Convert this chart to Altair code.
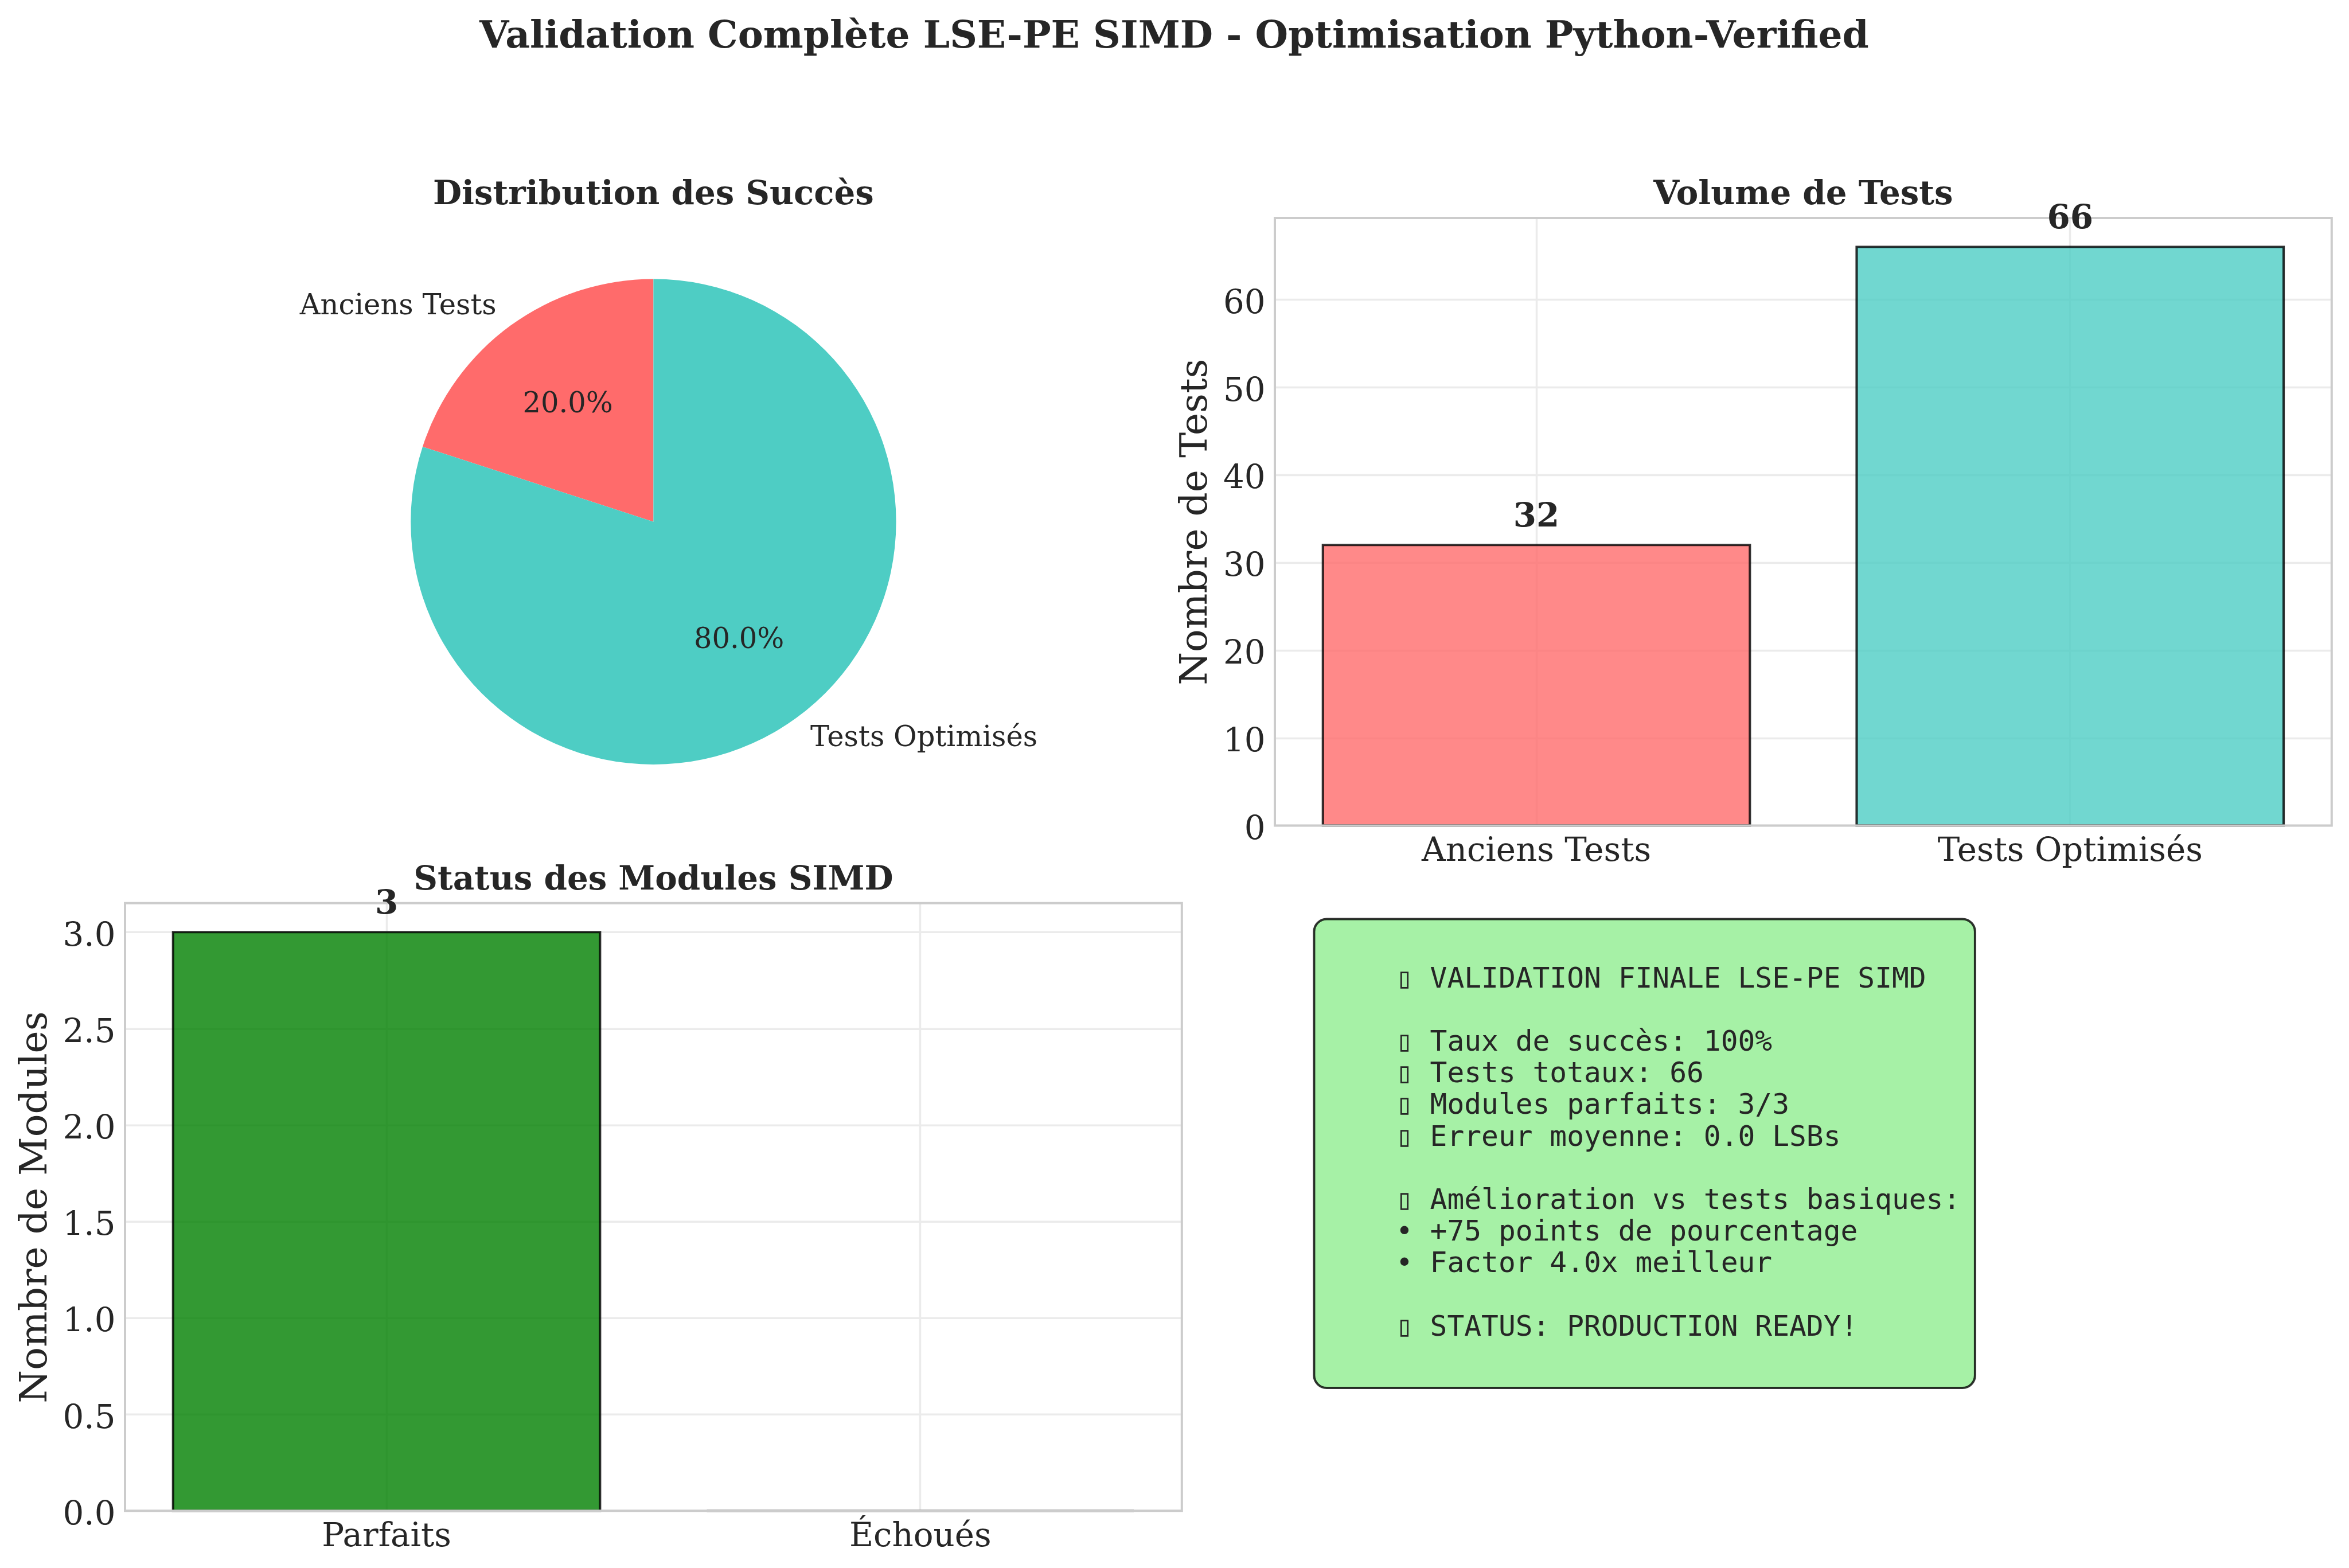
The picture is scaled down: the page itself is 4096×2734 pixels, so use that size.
import math
import altair as alt
import pandas as pd

# ---------------- data ----------------
main_title = "Validation Complète LSE-PE SIMD - Optimisation Python-Verified"
panel_titles = ["Distribution des Succès", "Volume de Tests", "Status des Modules SIMD"]

pie_categories = ["Anciens Tests", "Tests Optimisés"]
pie_values = [25, 100]  # taux de succès -> 20.0% / 80.0%

volume_categories = ["Anciens Tests", "Tests Optimisés"]
volume_values = [32, 66]
volume_ticks = [0, 10, 20, 30, 40, 50, 60]

module_categories = ["Parfaits", "Échoués"]
module_values = [3, 0]
module_ticks = [0.0, 0.5, 1.0, 1.5, 2.0, 2.5, 3.0]

y_titles = ["Nombre de Tests", "Nombre de Modules"]

summary_lines = [
    "▯ VALIDATION FINALE LSE-PE SIMD",
    "",
    "▯ Taux de succès: 100%",
    "▯ Tests totaux: 66",
    "▯ Modules parfaits: 3/3",
    "▯ Erreur moyenne: 0.0 LSBs",
    "",
    "▯ Amélioration vs tests basiques:",
    "• +75 points de pourcentage",
    "• Factor 4.0x meilleur",
    "",
    "▯ STATUS: PRODUCTION READY!",
]

# ---------------- styles / layout ----------------
pie_colors = ["#FF6B6B", "#4ECDC4"]
volume_colors = ["#FF6B6B", "#4ECDC4"]
module_colors = ["#008000", "#FF0000"]

W = 1842.8
H = 1059.4
OX, OY = 218.0, 379.6
COL_GAP, ROW_GAP = 162.0, 134.8
R = 423.2

SERIF = "DejaVu Serif"
MONO = "DejaVu Sans Mono"
INK = "#262626"
GRID = "#ebebeb"
SPINE = "#cccccc"

FS_SUP = 66.1
FS_PTITLE = 57.8
FS_TICK = 57.8
FS_AXT = 66.1
FS_PIE = 49.55
FS_BOX = 49.55
FS_VAL = 57.8
LINE_H = 55.2

one = pd.DataFrame({"k": [0]})


def panel_title(text, y=-23.8):
    return alt.Chart(pd.DataFrame({"t": [text]})).mark_text(
        font=SERIF, fontSize=FS_PTITLE, fontWeight="bold", color=INK,
        align="center", baseline="alphabetic",
    ).encode(text="t:N", x=alt.value(W / 2), y=alt.value(y))


def frame():
    return alt.Chart(one).mark_rect(
        fillOpacity=0, stroke=SPINE, strokeWidth=4
    ).encode(x=alt.value(0), x2=alt.value(W), y=alt.value(0), y2=alt.value(H))


def anchor(x, y):
    return alt.Chart(one).mark_rule(opacity=0).encode(
        x=alt.value(x), x2=alt.value(x + 1), y=alt.value(y), y2=alt.value(y)
    )


# ---------------- pie panel ----------------
pie_df = pd.DataFrame({"cat": pie_categories, "v": pie_values})
theta_scale = alt.Scale(range=[2 * math.pi, 0])  # counter-clockwise from 12 o'clock
pie_base = alt.Chart(pie_df).transform_window(idx="row_number()")

arcs = pie_base.mark_arc(outerRadius=R).encode(
    theta=alt.Theta("v:Q", stack=True, scale=theta_scale),
    order=alt.Order("idx:Q"),
    color=alt.Color("cat:N", scale=alt.Scale(domain=pie_categories, range=pie_colors), legend=None),
)

lab = (
    pie_base.transform_joinaggregate(total="sum(v)")
    .transform_window(cum="sum(v)", sort=[alt.SortField("idx")])
    .transform_calculate(mid="datum.cum - datum.v / 2")
    .transform_calculate(pct="datum.v / datum.total")
    .transform_calculate(side="sin(2 * PI * (1 - datum.mid / datum.total))")
)
theta_mid = alt.Theta("mid:Q", stack=False, scale=theta_scale)

lab_left = lab.transform_filter("datum.side < 0").mark_text(
    radius=1.1 * R, align="right", baseline="middle", font=SERIF, fontSize=FS_PIE, color=INK
).encode(theta=theta_mid, text="cat:N")
lab_right = lab.transform_filter("datum.side >= 0").mark_text(
    radius=1.1 * R, align="left", baseline="middle", font=SERIF, fontSize=FS_PIE, color=INK
).encode(theta=theta_mid, text="cat:N")
pct_text = lab.mark_text(
    radius=0.6 * R, align="center", baseline="middle", font=SERIF, fontSize=FS_PIE, color=INK
).encode(theta=theta_mid, text=alt.Text("pct:Q", format=".1%"))

suptitle = alt.Chart(pd.DataFrame({"t": [main_title]})).mark_text(
    font=SERIF, fontSize=FS_SUP, fontWeight="bold", color=INK, align="center", baseline="alphabetic"
).encode(text="t:N", x=alt.value(2047.4 - OX), y=alt.value(82.3 - OY))

pie_panel = alt.layer(
    arcs, lab_left, lab_right, pct_text, panel_title(panel_titles[0]), suptitle, anchor(-OX, -OY)
).properties(width=W, height=H)


# ---------------- bar panels ----------------
def bar_panel(cats, vals, colors, ticks, ymax, ytitle, title_x, fmt, title, extra=None):
    df = pd.DataFrame({"cat": cats, "v": vals})
    x_axis = alt.Axis(
        title=None, labelAngle=0, bandPosition=0.5, grid=True,
        labelPadding=15, labelBaseline="top",
    )
    y_axis = alt.Axis(
        values=ticks, format=fmt, title=ytitle, titleX=title_x, titleY=H / 2,
        titleAngle=270, titleAlign="center", titleBaseline="alphabetic",
        labelPadding=17, labelBaseline="alphabetic", labelOffset=23,
    )
    base = alt.Chart(df).encode(
        x=alt.X("cat:N", sort=cats, scale=alt.Scale(paddingInner=0.2, paddingOuter=0.09), axis=x_axis),
        y=alt.Y("v:Q", scale=alt.Scale(domain=[0, ymax], nice=False), axis=y_axis),
    )
    bars = base.mark_bar(
        fillOpacity=0.8, stroke="black", strokeOpacity=0.8, strokeWidth=4.1
    ).encode(color=alt.Color("cat:N", scale=alt.Scale(domain=cats, range=colors), legend=None))
    labels = base.transform_filter("datum.v > 0").mark_text(
        dy=-32.2, align="center", baseline="alphabetic", font=SERIF,
        fontSize=FS_VAL, fontWeight="bold", color=INK,
    ).encode(text="v:Q")
    layers = [bars, frame(), labels, panel_title(title)]
    if extra is not None:
        layers.append(extra)
    return alt.layer(*layers).properties(width=W, height=H)


vol_panel = bar_panel(volume_categories, volume_values, volume_colors, volume_ticks,
                      69.3, y_titles[0], -119.2, "d", panel_titles[1])
mod_panel = bar_panel(module_categories, module_values, module_colors, module_ticks,
                      3.15, y_titles[1], -137.1, ".1f", panel_titles[2])

# ---------------- summary box ----------------
box_rect = alt.Chart(one).mark_rect(
    cornerRadius=22, fill="#90EE90", fillOpacity=0.8, stroke="black", strokeOpacity=0.8, strokeWidth=4
).encode(x=alt.value(68.4), x2=alt.value(1220.9), y=alt.value(27.7), y2=alt.value(845.3))

lines_df = pd.DataFrame({"i": list(range(len(summary_lines))), "line": summary_lines})
first_base = 146.7
box_text = alt.Chart(lines_df).transform_filter("datum.line != ''").mark_text(
    align="left", baseline="alphabetic", font=MONO, fontSize=FS_BOX, color=INK
).encode(
    x=alt.value(210.9),
    y=alt.Y("i:Q", axis=None,
            scale=alt.Scale(domain=[0, 1], range=[first_base, first_base + LINE_H], nice=False, zero=False)),
    text="line:N",
)

box_panel = alt.layer(box_rect, box_text, anchor(W + 28, H + 99)).properties(width=W, height=H)

chart = alt.concat(
    pie_panel, vol_panel, mod_panel, box_panel,
    columns=2,
    spacing={"row": ROW_GAP, "column": COL_GAP},
    bounds="flush",
    padding=0,
    background="white",
).resolve_scale(color="independent").configure_view(strokeWidth=0).configure_axis(
    labelFont=SERIF, labelFontSize=FS_TICK, labelColor=INK,
    titleFont=SERIF, titleFontSize=FS_AXT, titleFontWeight="normal", titleColor=INK,
    ticks=False, domain=False, gridColor=GRID, gridWidth=3.5,
    labelLimit=1000, titleLimit=2000,
)

chart.save("out.html", embed_options={"renderer": "svg", "actions": False})
